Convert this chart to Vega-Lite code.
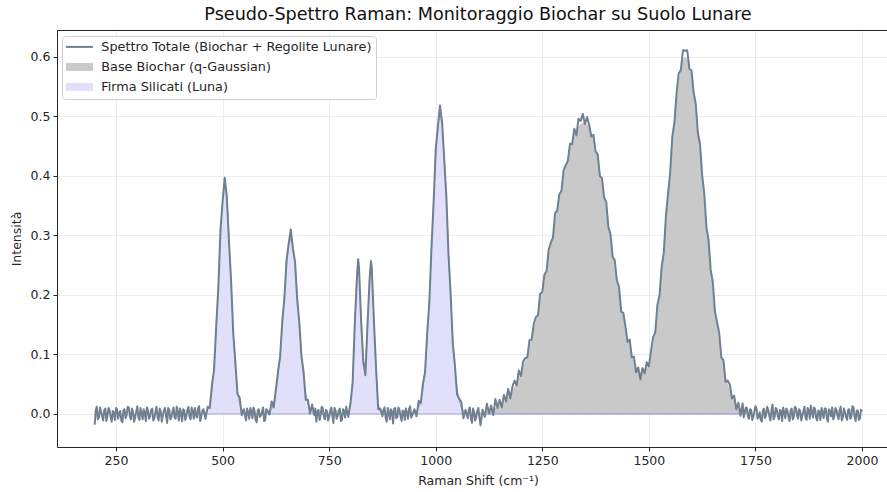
{
"$schema": "https://vega.github.io/schema/vega-lite/v6.json",
"width": 830, "height": 417,
"autosize": "none",
"padding": {"left": 57, "top": 30, "right": 0, "bottom": 45},
"background": "white",
"title": {"text": "Pseudo-Spettro Raman: Monitoraggio Biochar su Suolo Lunare", "font": "DejaVu Sans", "fontSize": 17.6, "fontWeight": "normal", "color": "#111111", "offset": 6, "anchor": "middle", "dx": 6},
"data": {"values": [
{"x":200,"t":-0.018},{"x":205,"t":0.012},{"x":210,"t":-0.006},{"x":215,"t":0.004},{"x":220,"t":-0.011},{"x":225,"t":0.009},{"x":230,"t":-0.003},{"x":235,"t":0.007},{"x":240,"t":-0.013},{"x":245,"t":0.002},
{"x":250,"t":0.010},{"x":255,"t":-0.008},{"x":260,"t":0.005},{"x":265,"t":-0.014},{"x":270,"t":0.008},{"x":275,"t":-0.002},{"x":280,"t":0.011},{"x":285,"t":-0.009},{"x":290,"t":0.003},{"x":295,"t":-0.005},
{"x":300,"t":0.013},{"x":305,"t":-0.010},{"x":310,"t":0.001},{"x":315,"t":0.008},{"x":320,"t":-0.012},{"x":325,"t":0.006},{"x":330,"t":-0.004},{"x":335,"t":0.009},{"x":340,"t":-0.007},{"x":345,"t":0.012},
{"x":350,"t":-0.011},{"x":355,"t":0.004},{"x":360,"t":-0.002},{"x":365,"t":0.010},{"x":370,"t":-0.015},{"x":375,"t":0.007},{"x":380,"t":-0.005},{"x":385,"t":0.011},{"x":390,"t":-0.008},{"x":395,"t":0.003},
{"x":400,"t":0.009},{"x":405,"t":-0.012},{"x":410,"t":0.006},{"x":415,"t":-0.003},{"x":420,"t":0.012},{"x":425,"t":-0.009},{"x":430,"t":0.004},{"x":435,"t":0.010},{"x":440,"t":-0.006},{"x":445,"t":0.013},
{"x":450,"t":-0.004},{"x":455,"t":0.008,"s":0},{"x":460,"t":-0.008,"s":0.0022},{"x":465,"t":0.012,"s":0.0065},{"x":470,"t":0.010,"s":0.0169},{"x":475,"t":0.048,"s":0.0388},{"x":480,"t":0.074,"s":0.0782},{"x":485,"t":0.147,"s":0.1386},{"x":490,"t":0.211,"s":0.2168},{"x":495,"t":0.308,"s":0.2984},
{"x":500,"t":0.356,"s":0.3611},{"x":505,"t":0.397,"s":0.385},{"x":510,"t":0.365,"s":0.3611},{"x":515,"t":0.290,"s":0.2984},{"x":520,"t":0.224,"s":0.2168},{"x":525,"t":0.136,"s":0.1386},{"x":530,"t":0.087,"s":0.0782},{"x":535,"t":0.033,"s":0.0388},{"x":540,"t":0.028,"s":0.0169},{"x":545,"t":-0.002,"s":0.0065},
{"x":550,"t":0.008,"s":0.0022},{"x":555,"t":-0.011,"s":0.0007},{"x":560,"t":0.003,"s":0},{"x":565,"t":0.010,"s":0},{"x":570,"t":-0.007,"s":0},{"x":575,"t":0.005,"s":0},{"x":580,"t":-0.014,"s":0},{"x":585,"t":0.008,"s":0},{"x":590,"t":-0.002,"s":0},{"x":595,"t":0.011,"s":0},
{"x":600,"t":-0.010,"s":0},{"x":605,"t":0.006,"s":0.0016},{"x":610,"t":-0.001,"s":0.0039},{"x":615,"t":0.021,"s":0.0089},{"x":620,"t":0.011,"s":0.0185},{"x":625,"t":0.041,"s":0.0354},{"x":630,"t":0.071,"s":0.0622},{"x":635,"t":0.096,"s":0.1},{"x":640,"t":0.155,"s":0.1478},{"x":645,"t":0.194,"s":0.2},
{"x":650,"t":0.258,"s":0.2481},{"x":655,"t":0.286,"s":0.2826},{"x":660,"t":0.310,"s":0.295},{"x":665,"t":0.278,"s":0.2826},{"x":670,"t":0.256,"s":0.2481},{"x":675,"t":0.193,"s":0.2},{"x":680,"t":0.154,"s":0.1478},{"x":685,"t":0.097,"s":0.1},{"x":690,"t":0.071,"s":0.0622},{"x":695,"t":0.024,"s":0.0354},
{"x":700,"t":0.024,"s":0.0185},{"x":705,"t":0.001,"s":0.0089},{"x":710,"t":0.016,"s":0.0039},{"x":715,"t":-0.002,"s":0.0016},{"x":720,"t":-0.013,"s":0},{"x":725,"t":0.007,"s":0},{"x":730,"t":-0.002,"s":0},{"x":735,"t":0.010,"s":0},{"x":740,"t":-0.009,"s":0},{"x":745,"t":0.004,"s":0},
{"x":750,"t":-0.006,"s":0},{"x":755,"t":0.011,"s":0},{"x":760,"t":-0.015,"s":0},{"x":765,"t":0.006,"s":0},{"x":770,"t":-0.003,"s":0},{"x":775,"t":0.009,"s":0},{"x":780,"t":-0.010,"s":0},{"x":785,"t":0.005,"s":0},{"x":790,"t":0.012,"s":0.0002},{"x":795,"t":-0.005,"s":0.0023},
{"x":800,"t":0.018,"s":0.014},{"x":805,"t":0.051,"s":0.0557},{"x":810,"t":0.150,"s":0.1415},{"x":815,"t":0.227,"s":0.2309},{"x":818,"t":0.260,"s":0.25},{"x":820,"t":0.247,"s":0.2414},{"x":825,"t":0.156,"s":0.164},{"x":830,"t":0.089,"s":0.0835},{"x":835,"t":0.065,"s":0.0749},{"x":840,"t":0.151,"s":0.1449},
{"x":845,"t":0.228,"s":0.2312},{"x":848,"t":0.257,"s":0.25},{"x":850,"t":0.245,"s":0.2413},{"x":855,"t":0.156,"s":0.1617},{"x":860,"t":0.079,"s":0.0695},{"x":865,"t":0.008,"s":0.0192},{"x":870,"t":0.009,"s":0.0034},{"x":875,"t":-0.004,"s":0.0004},{"x":880,"t":0.011,"s":0},{"x":885,"t":-0.013,"s":0},
{"x":890,"t":0.003,"s":0},{"x":895,"t":0.008,"s":0},{"x":900,"t":-0.016,"s":0},{"x":905,"t":0.010,"s":0},{"x":910,"t":-0.005,"s":0},{"x":915,"t":0.007,"s":0},{"x":920,"t":-0.012,"s":0},{"x":925,"t":0.004,"s":0},{"x":930,"t":0.009,"s":0},{"x":935,"t":-0.008,"s":0},
{"x":940,"t":0.013,"s":0},{"x":945,"t":-0.002,"s":0.0008},{"x":950,"t":0.008,"s":0.002},{"x":955,"t":-0.004,"s":0.0047},{"x":960,"t":0.022,"s":0.0107},{"x":965,"t":0.018,"s":0.0222},{"x":970,"t":0.051,"s":0.0428},{"x":975,"t":0.070,"s":0.0763},{"x":980,"t":0.136,"s":0.1257},{"x":985,"t":0.187,"s":0.1924},
{"x":990,"t":0.279,"s":0.2722},{"x":995,"t":0.354,"s":0.357},{"x":1000,"t":0.445,"s":0.4328},{"x":1005,"t":0.482,"s":0.4858},{"x":1010,"t":0.518,"s":0.505},{"x":1015,"t":0.490,"s":0.4858},{"x":1020,"t":0.427,"s":0.4328},{"x":1025,"t":0.365,"s":0.357},{"x":1030,"t":0.267,"s":0.2722},{"x":1035,"t":0.202,"s":0.1924},
{"x":1040,"t":0.119,"s":0.1257},{"x":1045,"t":0.082,"s":0.0763},{"x":1050,"t":0.033,"s":0.0428},{"x":1055,"t":0.026,"s":0.0222},{"x":1060,"t":0.020,"s":0.0107},{"x":1065,"t":-0.007,"s":0.0047},{"x":1070,"t":0.007,"s":0.002},{"x":1075,"t":-0.007,"s":0.0008},{"x":1080,"t":0.011,"s":0},{"x":1085,"t":-0.015,"s":0},
{"x":1090,"t":0.003,"s":0},{"x":1095,"t":-0.006,"s":0},{"x":1100,"t":0.010,"s":0,"b":0.0021},{"x":1105,"t":-0.019,"s":0,"b":0.0026},{"x":1110,"t":0.007,"s":0,"b":0.0032},{"x":1115,"t":-0.005,"s":0,"b":0.0039},{"x":1120,"t":0.017,"s":0,"b":0.0048},{"x":1125,"t":0.001,"s":0,"b":0.0059},{"x":1130,"t":0.014,"s":0,"b":0.0072},{"x":1135,"t":-0.002,"s":0,"b":0.0087},
{"x":1140,"t":0.025,"s":0,"b":0.0105},{"x":1145,"t":0.010,"s":0,"b":0.0126},{"x":1150,"t":0.024,"s":0,"b":0.015},{"x":1155,"t":0.011,"s":0,"b":0.0179},{"x":1160,"t":0.032,"s":0,"b":0.0212},{"x":1165,"t":0.021,"s":0,"b":0.025},{"x":1170,"t":0.042,"s":0,"b":0.0293},{"x":1175,"t":0.026,"s":0,"b":0.0343},{"x":1180,"t":0.046,"s":0,"b":0.0399},{"x":1185,"t":0.056,"s":0,"b":0.0462},
{"x":1190,"t":0.048,"s":0,"b":0.0533},{"x":1195,"t":0.073,"s":0,"b":0.0612},{"x":1200,"t":0.064,"s":0,"b":0.0699},{"x":1205,"t":0.088,"s":0,"b":0.0796},{"x":1210,"t":0.094,"s":0,"b":0.0902},{"x":1215,"t":0.095,"s":0,"b":0.1017},{"x":1220,"t":0.124,"s":0,"b":0.1142},{"x":1225,"t":0.125,"s":0,"b":0.1277},{"x":1230,"t":0.151,"s":0,"b":0.1421},{"x":1235,"t":0.163,"s":0,"b":0.1575},
{"x":1240,"t":0.166,"s":0,"b":0.1738},{"x":1245,"t":0.202,"s":0,"b":0.1908},{"x":1250,"t":0.205,"s":0,"b":0.2086},{"x":1255,"t":0.234,"s":0,"b":0.2271},{"x":1260,"t":0.240,"s":0,"b":0.2462},{"x":1265,"t":0.276,"s":0,"b":0.2657},{"x":1270,"t":0.288,"s":0,"b":0.2853},{"x":1275,"t":0.296,"s":0,"b":0.3051},{"x":1280,"t":0.337,"s":0,"b":0.3249},{"x":1285,"t":0.342,"s":0,"b":0.3443},
{"x":1290,"t":0.369,"s":0,"b":0.3634},{"x":1295,"t":0.375,"s":0,"b":0.3817},{"x":1300,"t":0.409,"s":0,"b":0.3993},{"x":1305,"t":0.418,"s":0,"b":0.4157},{"x":1310,"t":0.425,"s":0,"b":0.431},{"x":1315,"t":0.454,"s":0,"b":0.4448},{"x":1320,"t":0.453,"s":0,"b":0.457},{"x":1325,"t":0.479,"s":0,"b":0.4675},{"x":1330,"t":0.468,"s":0,"b":0.4761},{"x":1335,"t":0.496,"s":0,"b":0.4827},
{"x":1340,"t":0.492,"s":0,"b":0.4872},{"x":1345,"t":0.504,"s":0,"b":0.4896},{"x":1350,"t":0.487,"s":0,"b":0.4897},{"x":1355,"t":0.499,"s":0,"b":0.4869},{"x":1360,"t":0.485,"s":0,"b":0.4809},{"x":1365,"t":0.466,"s":0,"b":0.4719},{"x":1370,"t":0.469,"s":0,"b":0.4601},{"x":1375,"t":0.441,"s":0,"b":0.4457},{"x":1380,"t":0.436,"s":0,"b":0.4289},{"x":1385,"t":0.400,"s":0,"b":0.4101},
{"x":1390,"t":0.396,"s":0,"b":0.3896},{"x":1395,"t":0.364,"s":0,"b":0.3676},{"x":1400,"t":0.356,"s":0,"b":0.3447},{"x":1405,"t":0.314,"s":0,"b":0.3211},{"x":1410,"t":0.302,"s":0,"b":0.2972},{"x":1415,"t":0.264,"s":0,"b":0.2733},{"x":1420,"t":0.258,"s":0,"b":0.2497},{"x":1425,"t":0.224,"s":0,"b":0.2266},{"x":1430,"t":0.214,"s":0,"b":0.2043},{"x":1435,"t":0.172,"s":0,"b":0.1836},
{"x":1440,"t":0.170,"s":0,"b":0.1638},{"x":1445,"t":0.148,"s":0,"b":0.1454},{"x":1450,"t":0.121,"s":0,"b":0.1286},{"x":1455,"t":0.125,"s":0,"b":0.1136},{"x":1460,"t":0.095,"s":0,"b":0.1003},{"x":1465,"t":0.096,"s":0,"b":0.0893},{"x":1470,"t":0.070,"s":0,"b":0.0803},{"x":1475,"t":0.078,"s":0,"b":0.0738},{"x":1480,"t":0.058,"s":0,"b":0.0699},{"x":1485,"t":0.077,"s":0,"b":0.0691},
{"x":1490,"t":0.068,"s":0,"b":0.0714},{"x":1495,"t":0.087,"s":0,"b":0.0772},{"x":1500,"t":0.080,"s":0,"b":0.0871},{"x":1505,"t":0.106,"s":0,"b":0.1011},{"x":1510,"t":0.129,"s":0,"b":0.1195},{"x":1515,"t":0.137,"s":0,"b":0.1428},{"x":1520,"t":0.183,"s":0,"b":0.1707},{"x":1525,"t":0.199,"s":0,"b":0.2031},{"x":1530,"t":0.247,"s":0,"b":0.2397},{"x":1535,"t":0.271,"s":0,"b":0.2799},
{"x":1540,"t":0.333,"s":0,"b":0.3228},{"x":1545,"t":0.370,"s":0,"b":0.367},{"x":1550,"t":0.406,"s":0,"b":0.4116},{"x":1555,"t":0.466,"s":0,"b":0.4548},{"x":1560,"t":0.490,"s":0,"b":0.495},{"x":1565,"t":0.539,"s":0,"b":0.5306},{"x":1570,"t":0.572,"s":0,"b":0.5601},{"x":1575,"t":0.578,"s":0,"b":0.5821},{"x":1580,"t":0.611,"s":0,"b":0.5958},{"x":1585,"t":0.610,"s":0,"b":0.6003},
{"x":1590,"t":0.611,"s":0,"b":0.5965},{"x":1595,"t":0.580,"s":0,"b":0.5855},{"x":1600,"t":0.577,"s":0,"b":0.5677},{"x":1605,"t":0.540,"s":0,"b":0.5437},{"x":1610,"t":0.521,"s":0,"b":0.5142},{"x":1615,"t":0.472,"s":0,"b":0.4804},{"x":1620,"t":0.453,"s":0,"b":0.4434},{"x":1625,"t":0.401,"s":0,"b":0.4042},{"x":1630,"t":0.370,"s":0,"b":0.3639},{"x":1635,"t":0.314,"s":0,"b":0.3236},
{"x":1640,"t":0.292,"s":0,"b":0.2843},{"x":1645,"t":0.242,"s":0,"b":0.2466},{"x":1650,"t":0.222,"s":0,"b":0.2114},{"x":1655,"t":0.172,"s":0,"b":0.1789},{"x":1660,"t":0.154,"s":0,"b":0.1496},{"x":1665,"t":0.136,"s":0,"b":0.1235},{"x":1670,"t":0.095,"s":0,"b":0.1008},{"x":1675,"t":0.090,"s":0,"b":0.0812},{"x":1680,"t":0.054,"s":0,"b":0.0646},{"x":1685,"t":0.056,"s":0,"b":0.0508},
{"x":1690,"t":0.049,"s":0,"b":0.0394},{"x":1695,"t":0.026,"s":0,"b":0.0302},{"x":1700,"t":0.031,"s":0,"b":0.0229},{"x":1705,"t":0.008,"s":0,"b":0.0171},{"x":1710,"t":0.019,"s":0,"b":0.0127},{"x":1715,"t":-0.003,"s":0,"b":0.0092},{"x":1720,"t":0.018,"s":0,"b":0.0067},{"x":1725,"t":0.002,"b":0.0047},{"x":1730,"t":0.010,"b":0.0033},{"x":1735,"t":-0.008,"b":0.0023},
{"x":1740,"t":0.007,"b":0.0016},{"x":1745,"t":-0.005,"b":0.0011},{"x":1750,"t":0.013,"b":0.0007},{"x":1755,"t":-0.008},{"x":1760,"t":0.003},{"x":1765,"t":-0.013},{"x":1770,"t":0.009},{"x":1775,"t":-0.002},{"x":1780,"t":0.007},{"x":1785,"t":-0.011},
{"x":1790,"t":0.016},{"x":1795,"t":-0.005},{"x":1800,"t":0.008},{"x":1805,"t":-0.009},{"x":1810,"t":0.004},{"x":1815,"t":0.011},{"x":1820,"t":-0.007},{"x":1825,"t":0.006},{"x":1830,"t":-0.012},{"x":1835,"t":0.009},
{"x":1840,"t":-0.004},{"x":1845,"t":0.010},{"x":1850,"t":-0.008},{"x":1855,"t":0.005},{"x":1860,"t":-0.003},{"x":1865,"t":0.012},{"x":1870,"t":-0.010},{"x":1875,"t":0.006},{"x":1880,"t":0.014},{"x":1885,"t":-0.006},
{"x":1890,"t":0.008},{"x":1895,"t":-0.011},{"x":1900,"t":0.004},{"x":1905,"t":0.010},{"x":1910,"t":-0.007},{"x":1915,"t":0.009},{"x":1920,"t":-0.013},{"x":1925,"t":0.005},{"x":1930,"t":0.011},{"x":1935,"t":-0.004},
{"x":1940,"t":0.007},{"x":1945,"t":-0.009},{"x":1950,"t":0.012},{"x":1955,"t":-0.006},{"x":1960,"t":0.003},{"x":1965,"t":-0.010},{"x":1970,"t":0.008},{"x":1975,"t":-0.005},{"x":1980,"t":0.011},{"x":1985,"t":-0.012},
{"x":1990,"t":0.006},{"x":1995,"t":-0.008},{"x":2000,"t":0.004},
{"x":202.5,"t":0.006},{"x":207.5,"t":-0.009},{"x":212.5,"t":0.011},{"x":217.5,"t":-0.004},{"x":222.5,"t":0.007},{"x":227.5,"t":-0.012},{"x":232.5,"t":0.010},{"x":237.5,"t":-0.006},{"x":242.5,"t":0.005},{"x":247.5,"t":-0.010},
{"x":252.5,"t":0.008},{"x":257.5,"t":0.001},{"x":262.5,"t":-0.011},{"x":267.5,"t":0.006},{"x":272.5,"t":-0.007},{"x":277.5,"t":0.012},{"x":282.5,"t":-0.004},{"x":287.5,"t":0.009},{"x":292.5,"t":-0.013},{"x":297.5,"t":0.004},
{"x":302.5,"t":-0.006},{"x":307.5,"t":0.010},{"x":312.5,"t":-0.009},{"x":317.5,"t":0.002},{"x":322.5,"t":0.011},{"x":327.5,"t":-0.008},{"x":332.5,"t":0.007},{"x":337.5,"t":-0.011},{"x":342.5,"t":0.003},{"x":347.5,"t":-0.005},
{"x":352.5,"t":0.009},{"x":357.5,"t":-0.013},{"x":362.5,"t":0.006},{"x":367.5,"t":-0.004},{"x":372.5,"t":0.010},{"x":377.5,"t":-0.009},{"x":382.5,"t":0.004},{"x":387.5,"t":-0.006},{"x":392.5,"t":0.012},{"x":397.5,"t":-0.011},
{"x":402.5,"t":0.002},{"x":407.5,"t":0.008},{"x":412.5,"t":-0.010},{"x":417.5,"t":0.007},{"x":422.5,"t":-0.005},{"x":427.5,"t":0.011},{"x":432.5,"t":-0.008},{"x":437.5,"t":-0.002},{"x":442.5,"t":0.009},{"x":447.5,"t":-0.012},
{"x":452.5,"t":0.005},
{"x":557.5,"t":0.009},{"x":562.5,"t":-0.008},{"x":567.5,"t":0.004},{"x":572.5,"t":0.011},{"x":577.5,"t":-0.010},{"x":582.5,"t":0.006},{"x":587.5,"t":-0.005},{"x":592.5,"t":0.003},{"x":597.5,"t":-0.012},{"x":602.5,"t":0.008},
{"x":717.5,"t":0.009},{"x":722.5,"t":0.004},{"x":727.5,"t":-0.010},{"x":732.5,"t":0.012},{"x":737.5,"t":-0.004},{"x":742.5,"t":0.007},{"x":747.5,"t":-0.011},{"x":752.5,"t":0.005},{"x":757.5,"t":-0.003},{"x":762.5,"t":0.010},
{"x":767.5,"t":-0.008},{"x":772.5,"t":0.006},{"x":777.5,"t":-0.012},{"x":782.5,"t":0.008},{"x":787.5,"t":-0.006},{"x":792.5,"t":0.003},
{"x":877.5,"t":0.007},{"x":882.5,"t":-0.006},{"x":887.5,"t":0.010},{"x":892.5,"t":-0.009},{"x":897.5,"t":0.004},{"x":902.5,"t":0.009},{"x":907.5,"t":-0.007},{"x":912.5,"t":0.011},{"x":917.5,"t":-0.004},{"x":922.5,"t":0.006},
{"x":927.5,"t":-0.010},{"x":932.5,"t":0.002},{"x":937.5,"t":0.008},{"x":942.5,"t":-0.006},
{"x":1077.5,"t":0.006},{"x":1082.5,"t":-0.007},{"x":1087.5,"t":0.009},{"x":1092.5,"t":-0.011},{"x":1097.5,"t":0.005},
{"x":1722.5,"t":-0.006},{"x":1727.5,"t":0.011},{"x":1732.5,"t":-0.004},{"x":1737.5,"t":0.008},{"x":1742.5,"t":-0.010},{"x":1747.5,"t":0.004},{"x":1752.5,"t":0.009},{"x":1757.5,"t":-0.005},{"x":1762.5,"t":-0.010},{"x":1767.5,"t":0.006},
{"x":1772.5,"t":-0.007},{"x":1777.5,"t":0.012},{"x":1782.5,"t":-0.003},{"x":1787.5,"t":0.005},{"x":1792.5,"t":-0.009},{"x":1797.5,"t":0.010},{"x":1802.5,"t":-0.004},{"x":1807.5,"t":0.007},{"x":1812.5,"t":-0.012},{"x":1817.5,"t":0.003},
{"x":1822.5,"t":0.009},{"x":1827.5,"t":-0.005},{"x":1832.5,"t":0.006},{"x":1837.5,"t":-0.009},{"x":1842.5,"t":0.012},{"x":1847.5,"t":-0.002},{"x":1852.5,"t":0.008},{"x":1857.5,"t":-0.011},{"x":1862.5,"t":0.004},{"x":1867.5,"t":-0.006},
{"x":1872.5,"t":0.010},{"x":1877.5,"t":-0.008},{"x":1882.5,"t":0.003},{"x":1887.5,"t":0.011},{"x":1892.5,"t":-0.007},{"x":1897.5,"t":0.006},{"x":1902.5,"t":-0.010},{"x":1907.5,"t":0.002},{"x":1912.5,"t":0.009},{"x":1917.5,"t":-0.006},
{"x":1922.5,"t":0.008},{"x":1927.5,"t":-0.004},{"x":1932.5,"t":-0.009},{"x":1937.5,"t":0.010},{"x":1942.5,"t":-0.003},{"x":1947.5,"t":0.006},{"x":1952.5,"t":-0.011},{"x":1957.5,"t":0.009},{"x":1962.5,"t":-0.005},{"x":1967.5,"t":0.007},
{"x":1972.5,"t":-0.008},{"x":1977.5,"t":0.013},{"x":1982.5,"t":-0.004},{"x":1987.5,"t":0.005},{"x":1992.5,"t":-0.010},{"x":1997.5,"t":0.007}
]},
"layer": [
{
"transform": [{"filter": "isValid(datum.b)"}],
"mark": {"type": "area", "strokeWidth": 0},
"encoding": {
"x": {"field": "x", "type": "quantitative", "scale": {"domain": [111.6, 2058.6], "nice": false, "zero": false},
"axis": {"values": [250, 500, 750, 1000, 1250, 1500, 1750, 2000], "format": "d", "title": "Raman Shift (cm⁻¹)", "grid": true, "tickSize": 4, "labelPadding": 3, "titlePadding": 8, "titleX": 421, "orient": "bottom"}},
"y": {"field": "b", "type": "quantitative", "stack": null, "title": "Intensità", "scale": {"domain": [-0.0555, 0.645], "nice": false, "zero": false},
"axis": {"values": [0, 0.1, 0.2, 0.3, 0.4, 0.5, 0.6], "format": ".1f", "title": "Intensità", "grid": true, "tickSize": 4, "labelPadding": 3, "titlePadding": 7}},
"color": {"datum": "Base Biochar (q-Gaussian)", "type": "nominal",
"scale": {"domain": ["Spettro Totale (Biochar + Regolite Lunare)", "Base Biochar (q-Gaussian)", "Firma Silicati (Luna)"], "range": ["#708090", "#c9c9c9", "#e0e0fb"]},
"legend": {"title": null, "orient": "none", "legendX": 5, "legendY": 6, "symbolSize": 196, "labelOffset": 22, "rowPadding": 6, "padding": 4.5, "fillColor": "rgba(255,255,255,0.85)", "strokeColor": "#d0d0d0", "cornerRadius": 3, "labelLimit": 500,
"encode": {"symbols": {"update": {
"shape": {"signal": "datum.value == 'Spettro Totale (Biochar + Regolite Lunare)' ? 'M-1,0H2.86' : 'M-1,-0.57H2.86V0.57H-1Z'"},
"strokeWidth": {"signal": "datum.value == 'Spettro Totale (Biochar + Regolite Lunare)' ? 2 : 0"},
"opacity": {"value": 1}
}}}}
}
}
},
{
"transform": [{"filter": "isValid(datum.s)"}],
"mark": {"type": "area", "stroke": "#a3a3dc", "strokeWidth": 1},
"encoding": {
"x": {"field": "x", "type": "quantitative", "scale": {"domain": [111.6, 2058.6], "nice": false, "zero": false}, "axis": null},
"y": {"field": "s", "type": "quantitative", "stack": null, "title": "Intensità", "scale": {"domain": [-0.0555, 0.645], "nice": false, "zero": false}},
"color": {"datum": "Firma Silicati (Luna)", "type": "nominal"}
}
},
{
"mark": {"type": "line", "strokeWidth": 2, "strokeJoin": "round"},
"encoding": {
"x": {"field": "x", "type": "quantitative", "scale": {"domain": [111.6, 2058.6], "nice": false, "zero": false},
"axis": {"orient": "top", "labels": false, "ticks": false, "grid": false, "title": null, "domain": true}},
"y": {"field": "t", "type": "quantitative", "title": "Intensità", "scale": {"domain": [-0.0555, 0.645], "nice": false, "zero": false}},
"color": {"datum": "Spettro Totale (Biochar + Regolite Lunare)", "type": "nominal"}
}
}
],
"resolve": {"axis": {"x": "independent"}},
"config": {
"view": {"stroke": null},
"axis": {"labelFont": "DejaVu Sans", "titleFont": "DejaVu Sans", "labelFontSize": 12.5, "titleFontSize": 12.5, "titleFontWeight": "normal", "labelColor": "#262626", "titleColor": "#262626", "tickColor": "#262626", "domainColor": "#262626", "domainWidth": 1, "gridColor": "#e9e9e9", "gridWidth": 0.8},
"legend": {"labelFont": "DejaVu Sans", "labelFontSize": 12.8, "labelColor": "#262626"}
}
}
